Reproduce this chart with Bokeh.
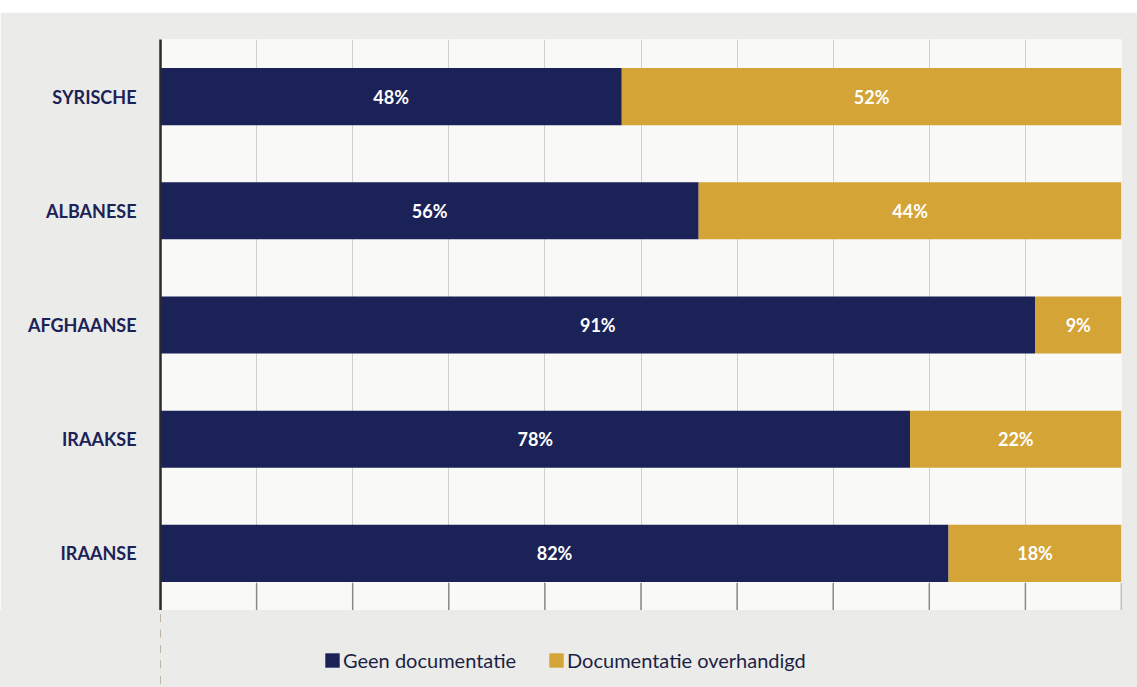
from bokeh.plotting import figure
from bokeh.models import ColumnDataSource, Legend, LegendItem, FixedTicker, FactorRange, Range1d, Spacer
from bokeh.layouts import column
from bokeh.core.properties import value
from bokeh.embed import file_html
from bokeh.resources import INLINE

categories = ["SYRISCHE", "ALBANESE", "AFGHAANSE", "IRAAKSE", "IRAANSE"]
geen_documentatie = [48, 56, 91, 78, 82]
documentatie_overhandigd = [52, 44, 9, 22, 18]
series_names = ["Geen documentatie", "Documentatie overhandigd"]
x_ticks = [0, 10, 20, 30, 40, 50, 60, 70, 80, 90, 100]

NAVY = "#1b2257"
GOLD = "#d4a436"
FONT = "Lato"
BORDER_BG = "#ebebe9"
PLOT_BG = "#f9f9f8"

src = ColumnDataSource(dict(
    cat=categories,
    geen=geen_documentatie,
    doc=documentatie_overhandigd,
    geen_mid=[g / 2 for g in geen_documentatie],
    doc_mid=[g + d / 2 for g, d in zip(geen_documentatie, documentatie_overhandigd)],
    geen_lbl=[f"{g}%" for g in geen_documentatie],
    doc_lbl=[f"{d}%" for d in documentatie_overhandigd],
))

p = figure(width=1137, height=598, output_backend="svg", toolbar_location=None, tools="",
           y_range=FactorRange(factors=list(reversed(categories))),
           x_range=(0, 100),
           min_border_left=160, min_border_right=16, min_border_top=27, min_border_bottom=0)

p.border_fill_color = BORDER_BG
p.background_fill_color = PLOT_BG
p.outline_line_color = None

# grid
p.ygrid.grid_line_color = None
p.xgrid.ticker = FixedTicker(ticks=x_ticks)
p.xgrid.grid_line_color = "#d0d0d0"
p.xgrid.grid_line_width = 1

# darker tick marks at the bottom of the plot area
tick_src = ColumnDataSource(dict(x=x_ticks, y0=[0] * len(x_ticks), y1=[0.24] * len(x_ticks)))
p.segment(x0="x", x1="x", y0="y0", y1="y1", source=tick_src,
          line_color="#8a8a8a", line_width=1.5)

rs = p.hbar_stack(["geen", "doc"], y="cat", height=0.5, color=[NAVY, GOLD],
                  line_color=None, source=src)

p.text(x="geen_mid", y="cat", text="geen_lbl", source=src, text_color="white",
       text_font=value(FONT), text_font_size="18px", text_font_style="bold",
       text_align="center", text_baseline="middle")
p.text(x="doc_mid", y="cat", text="doc_lbl", source=src, text_color="white",
       text_font=value(FONT), text_font_size="18px", text_font_style="bold",
       text_align="center", text_baseline="middle")

p.xaxis.visible = False

# y axis
p.yaxis.axis_line_color = "#2a2a2a"
p.yaxis.axis_line_width = 2.5
p.yaxis.major_tick_line_color = None
p.yaxis.minor_tick_line_color = None
p.yaxis.major_label_standoff = 18
p.yaxis.major_label_text_font = FONT
p.yaxis.major_label_text_font_size = "18px"
p.yaxis.major_label_text_font_style = "bold"
p.yaxis.major_label_text_color = NAVY

# legend strip below the chart (same series renderers, bars kept far out of view)
lg = figure(width=1137, height=77, output_backend="svg", toolbar_location=None, tools="",
            x_range=Range1d(1e6, 2e6), y_range=FactorRange(factors=list(reversed(categories))),
            min_border_left=160, min_border_right=16, min_border_top=0, min_border_bottom=0)
lg.border_fill_alpha = 0
lg.background_fill_alpha = 0
lg.styles = {"background-color": BORDER_BG}
lg.outline_line_color = None
lg.axis.visible = False
lg.grid.visible = False
lrs = lg.hbar_stack(["geen", "doc"], y="cat", height=0.5, color=[NAVY, GOLD],
                    line_color=None, source=src)

legend = Legend(items=[LegendItem(label=series_names[0], renderers=[lrs[0]]),
                       LegendItem(label=series_names[1], renderers=[lrs[1]])],
                orientation="horizontal", location=(163, 15),
                background_fill_alpha=0, border_line_color=None,
                label_text_font=FONT, label_text_font_size="20px",
                label_text_color="#1c1f45", glyph_width=18, glyph_height=18,
                label_standoff=2, spacing=31, margin=0, padding=0)
lg.add_layout(legend, "center")

layout = column(Spacer(width=1137, height=12), p, lg, spacing=0)

open("out.html", "w").write(file_html(layout, INLINE))
